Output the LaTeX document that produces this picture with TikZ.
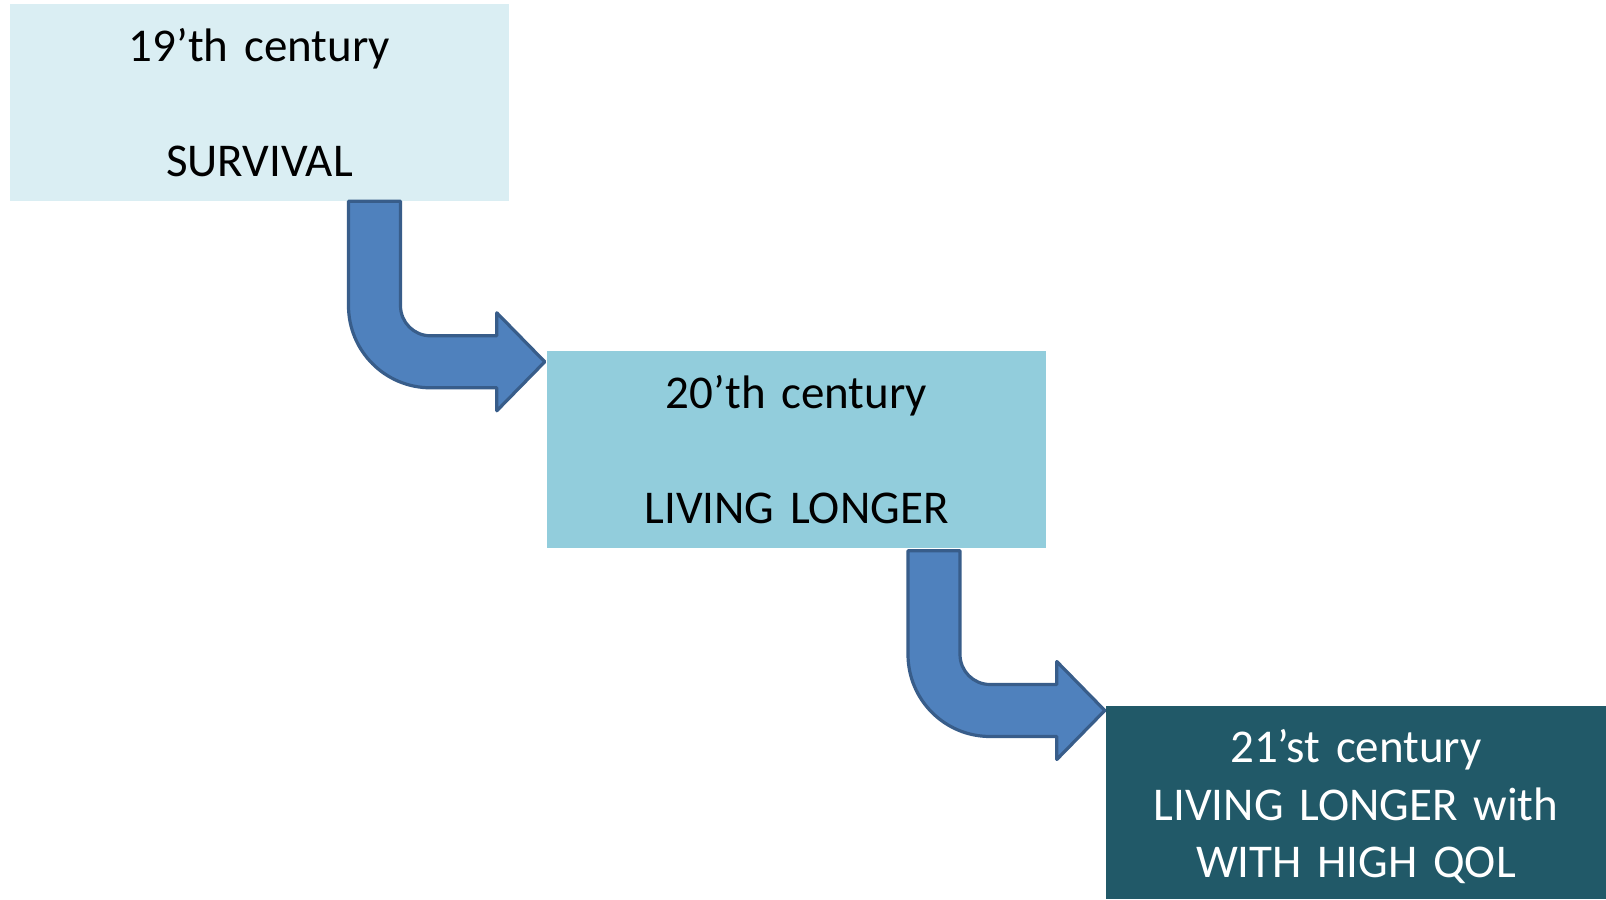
\documentclass[tikz,border=0pt]{standalone}
\usepackage{fontspec}
\setmainfont{Carlito}
\usetikzlibrary{calc}
\definecolor{boxone}{HTML}{DAEEF3}
\definecolor{boxtwo}{HTML}{92CDDC}
\definecolor{boxthree}{HTML}{215968}
\definecolor{arrowfill}{HTML}{4F81BD}
\definecolor{arrowline}{HTML}{385D8A}

\begin{document}
\begin{tikzpicture}[x=1bp, y=1bp,
	era/.style={inner sep=0pt, text width=499bp, minimum height=197bp, align=center,
		font=\fontsize{47bp}{57.5bp}\selectfont},
	bent/.style={fill=arrowfill, draw=arrowline, line width=3.2bp, line join=round}]
	\useasboundingbox (0,0) rectangle (1606,899);
	\node[era, fill=boxone] (b1) at (259.5,796.5) {19’th century\\[57.5bp]SURVIVAL};
	\node[era, fill=boxtwo] (b2) at (796.5,449) {20’th century\\[57.5bp]LIVING LONGER};
	\node[era, fill=boxthree, text=white, text width=500bp, minimum height=193bp] (b3) at (1356,96.5)
		{\rule{0pt}{42bp}21’st century\\LIVING LONGER with\\WITH HIGH QOL};
	\coordinate (a1s) at ([xshift=115bp]b1.south);
	\coordinate (a1t) at ([xshift=-2bp, yshift=-10.5bp]b2.north west);
	\coordinate (a2s) at ([xshift=137.5bp, yshift=-2bp]b2.south);
	\coordinate (a2t) at ([xshift=-1bp, yshift=-4.7bp]b3.north west);
	\foreach \s/\t in {a1s/a1t, a2s/a2t}
		\draw[bent] let \p1=(\s), \p2=(\t) in
			(\x1-26bp,\y1) -- (\x1-26bp,\y2+56bp) arc[start angle=180, end angle=270, radius=82bp]
			-- (\x2-48bp,\y2-26bp) -- (\x2-48bp,\y2-49bp) -- (\x2,\y2) -- (\x2-48bp,\y2+49bp)
			-- (\x2-48bp,\y2+26bp) -- (\x1+56bp,\y2+26bp) arc[start angle=270, end angle=180, radius=30bp]
			-- (\x1+26bp,\y1) -- cycle;
\end{tikzpicture}
\end{document}
